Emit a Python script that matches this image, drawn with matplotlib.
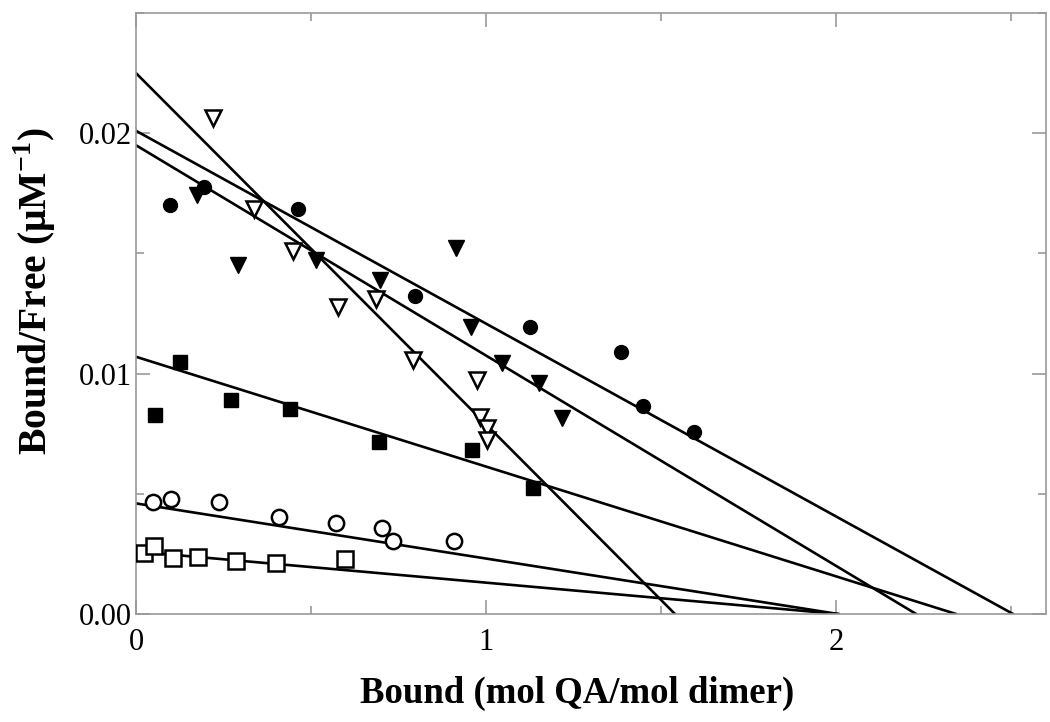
import numpy as np
import matplotlib
matplotlib.use("Agg")
import matplotlib.pyplot as plt
from matplotlib.ticker import MultipleLocator

plt.rcParams['font.family'] = ['Liberation Serif', 'DejaVu Serif']
plt.rcParams['mathtext.fontset'] = 'custom'
plt.rcParams['mathtext.bf'] = 'Liberation Serif:bold'
plt.rcParams['mathtext.rm'] = 'Liberation Serif'

# filled circles
fc_x = [0.097, 0.194, 0.463, 0.797, 1.126, 1.386, 1.449, 1.594]
fc_y = [0.0170, 0.01775, 0.01684, 0.01322, 0.01193, 0.01089, 0.00865, 0.00757]
# filled triangles
ft_x = [0.174, 0.291, 0.514, 0.697, 0.914, 0.957, 1.046, 1.151, 1.217]
ft_y = [0.01742, 0.01451, 0.01472, 0.01389, 0.01522, 0.01193, 0.01044, 0.0096, 0.00815]
# open triangles
ot_x = [0.220, 0.337, 0.449, 0.577, 0.686, 0.791, 0.974, 0.983, 1.003, 1.003]
ot_y = [0.02062, 0.01684, 0.01509, 0.01277, 0.0131, 0.01056, 0.00973, 0.00819, 0.00773, 0.00723]
# filled squares
fs_x = [0.054, 0.126, 0.271, 0.440, 0.694, 0.960, 1.134]
fs_y = [0.00827, 0.01048, 0.0089, 0.00852, 0.00715, 0.00682, 0.00524]
# open circles
oc_x = [0.049, 0.100, 0.237, 0.409, 0.571, 0.703, 0.734, 0.909]
oc_y = [0.00466, 0.00478, 0.00466, 0.00403, 0.00378, 0.00358, 0.00304, 0.00304]
# open squares
os_x = [0.023, 0.051, 0.106, 0.177, 0.286, 0.400, 0.597]
os_y = [0.00254, 0.00283, 0.00233, 0.00237, 0.0022, 0.00212, 0.00229]

# fitted lines: y-intercept and x-intercept
fit_y0 = [0.0201, 0.0195, 0.0225, 0.0107, 0.0046, 0.0026]
fit_x0 = [2.506, 2.229, 1.540, 2.343, 2.006, 2.006]

fig = plt.figure(figsize=(10.5, 7.22), dpi=100)
ax = fig.add_axes([0.1295, 0.1496, 0.8667, 0.8324])

for y0, x0 in zip(fit_y0, fit_x0):
    ax.plot([0, x0], [y0, 0], color='black', lw=1.9, zorder=2)

ax.plot(fc_x, fc_y, 'o', ms=10, color='black', zorder=3)
ax.plot(ft_x, ft_y, 'v', ms=11, color='black', zorder=3)
ax.plot(ot_x, ot_y, 'v', ms=11, mfc='white', mec='black', mew=1.8, zorder=3)
ax.plot(fs_x, fs_y, 's', ms=10, color='black', zorder=3)
ax.plot(oc_x, oc_y, 'o', ms=11, mfc='white', mec='black', mew=1.8, zorder=3)
ax.plot(os_x, os_y, 's', ms=11, mfc='white', mec='black', mew=1.8, zorder=3)

ax.set_xlim(0, 2.6)
ax.set_ylim(0, 0.025)
ax.xaxis.set_major_locator(MultipleLocator(1))
ax.xaxis.set_minor_locator(MultipleLocator(0.5))
ax.yaxis.set_major_locator(MultipleLocator(0.01))
ax.yaxis.set_minor_locator(MultipleLocator(0.005))
ax.yaxis.set_major_formatter(plt.FuncFormatter(lambda v, p: f"{v:.2f}"))

for s in ax.spines.values():
    s.set_color('#999999')
    s.set_linewidth(1.2)
ax.tick_params(which='both', direction='in', top=True, right=True, color='#999999',
               labelsize=22, width=1.2)
ax.tick_params(which='major', length=10)
ax.tick_params(which='minor', length=6)
ax.tick_params(axis='y', pad=3)
ax.tick_params(axis='x', pad=10)

ax.set_xlabel('Bound (mol QA/mol dimer)', fontsize=26.5, fontweight='bold', labelpad=14)
ax.set_ylabel('Bound/Free (\u03bcM$^{\\mathbf{-1}}$)', fontsize=28.5, fontweight='bold', labelpad=15)
ax.xaxis.label.set_x(0.485)
ax.yaxis.label.set_y(0.537)

fig.savefig('out.png', dpi=100)
